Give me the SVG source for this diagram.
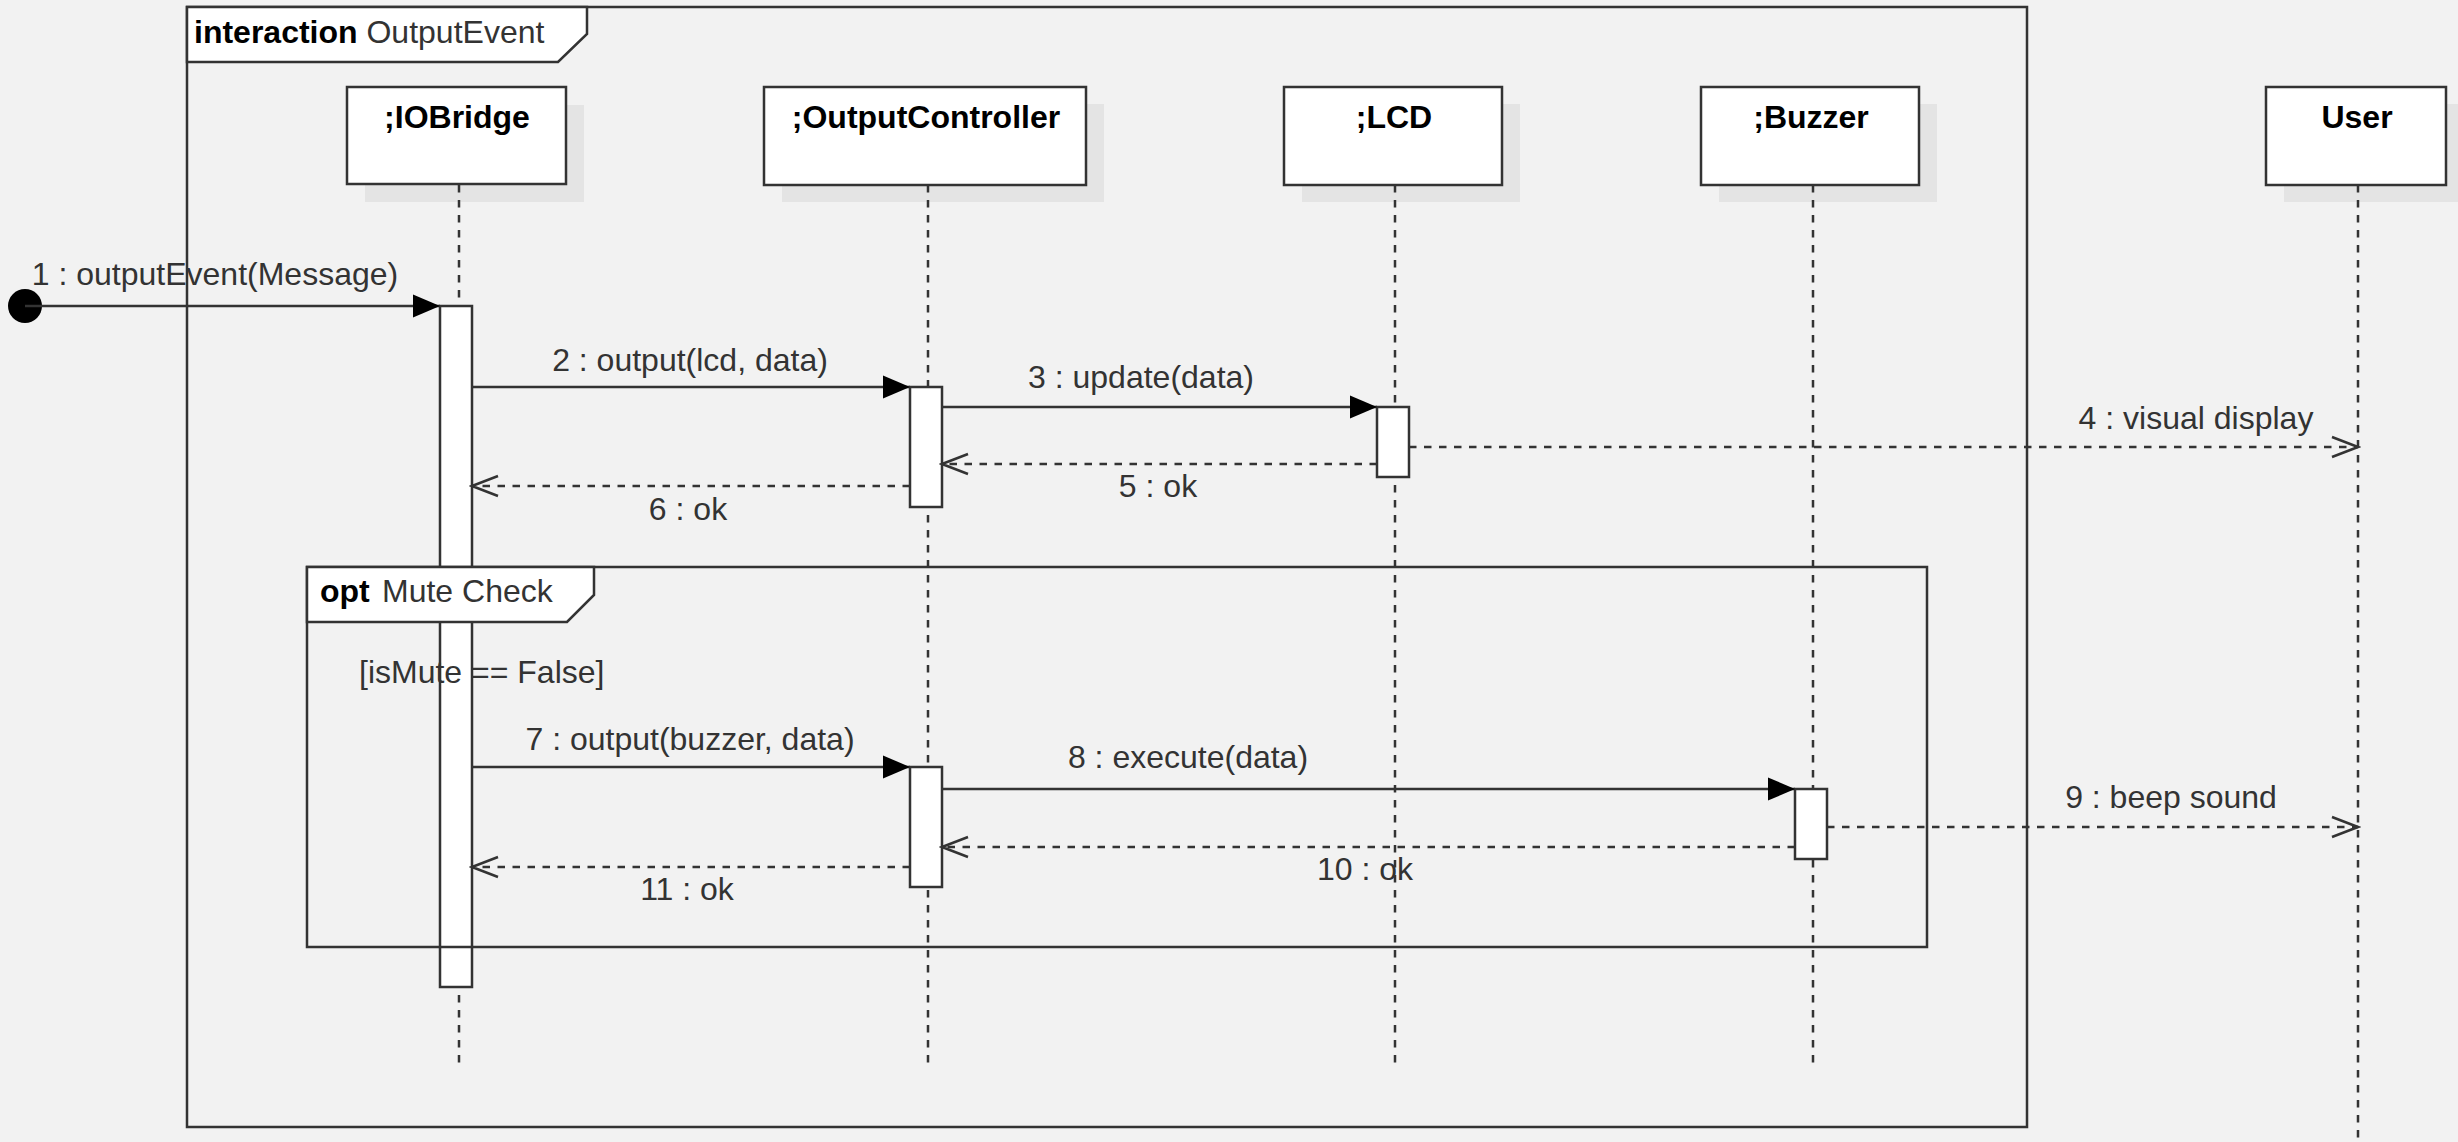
<svg xmlns="http://www.w3.org/2000/svg" width="2458" height="1142" viewBox="0 0 2458 1142">
<style>
.bg{fill:#f2f2f2}
.frame{fill:none;stroke:#333;stroke-width:2.5}
.tab{fill:#fff;stroke:#333;stroke-width:2.5}
.box{fill:#fff;stroke:#333;stroke-width:2.5}
.shadow{fill:#e4e4e4}
.life{stroke:#333;stroke-width:2.5;stroke-dasharray:7.5 7.5;fill:none}
.act{fill:#fff;stroke:#333;stroke-width:2.5}
.msg{stroke:#333;stroke-width:2.5;fill:none}
.ret{stroke:#333;stroke-width:2.5;fill:none;stroke-dasharray:7.5 7.5}
text{font-family:"Liberation Sans",Arial,sans-serif;font-size:32px}
.title{font-weight:bold;fill:#000;text-anchor:middle}
.lbl{fill:#333;text-anchor:middle}
.b{font-weight:bold;fill:#000}
.r{fill:#333}
</style>
<defs>
<marker id="fillArrow" markerUnits="userSpaceOnUse" markerWidth="28" markerHeight="24" refX="27" refY="12" orient="auto">
<path d="M0,0.5 L27,12 L0,23.5 Z" fill="#000"/>
</marker>
<marker id="openArrow" markerUnits="userSpaceOnUse" markerWidth="30" markerHeight="26" refX="27" refY="13" orient="auto">
<path d="M1,3 L27,13 L1,23" fill="none" stroke="#333" stroke-width="2.5"/>
</marker>
</defs>
<rect class="bg" x="0" y="0" width="2458" height="1142"/>

<g id="frame-interaction">
<rect class="frame" x="187" y="7" width="1840" height="1120"/>
<path class="tab" d="M187,7 L587,7 L587,34 L558,62 L187,62 Z"/>
<text x="194" y="43"><tspan class="b">interaction</tspan><tspan class="r"> OutputEvent</tspan></text>
</g>

<g id="lifeline-iobridge">
<rect class="shadow" x="365" y="105" width="219" height="97"/>
<rect class="box" x="347" y="87" width="219" height="97"/>
<text class="title" x="457" y="128">;IOBridge</text>
<line class="life" x1="459" y1="185" x2="459" y2="1066"/>
</g>
<g id="lifeline-outputcontroller">
<rect class="shadow" x="782" y="104" width="322" height="98"/>
<rect class="box" x="764" y="87" width="322" height="98"/>
<text class="title" x="926" y="128">;OutputController</text>
<line class="life" x1="928" y1="185" x2="928" y2="1066"/>
</g>
<g id="lifeline-lcd">
<rect class="shadow" x="1302" y="104" width="218" height="98"/>
<rect class="box" x="1284" y="87" width="218" height="98"/>
<text class="title" x="1394" y="128">;LCD</text>
<line class="life" x1="1395" y1="185" x2="1395" y2="1066"/>
</g>
<g id="lifeline-buzzer">
<rect class="shadow" x="1719" y="104" width="218" height="98"/>
<rect class="box" x="1701" y="87" width="218" height="98"/>
<text class="title" x="1811" y="128">;Buzzer</text>
<line class="life" x1="1813" y1="185" x2="1813" y2="1066"/>
</g>
<g id="lifeline-user">
<rect class="shadow" x="2284" y="104" width="180" height="98"/>
<rect class="box" x="2266" y="87" width="180" height="98"/>
<text class="title" x="2357" y="128">User</text>
<line class="life" x1="2358" y1="185" x2="2358" y2="1142"/>
</g>

<g id="activations">
<rect id="act-iobridge" class="act" x="440" y="306" width="32" height="681"/>
<rect id="act-oc-1" class="act" x="910" y="387" width="32" height="120"/>
<rect id="act-lcd" class="act" x="1377" y="407" width="32" height="70"/>
<rect id="act-oc-2" class="act" x="910" y="767" width="32" height="120"/>
<rect id="act-buzzer" class="act" x="1795" y="789" width="32" height="70"/>
</g>

<g id="frame-opt">
<rect class="frame" x="307" y="567" width="1620" height="380"/>
<path class="tab" d="M307,567 L594,567 L594,595 L567,622 L307,622 Z"/>
<text x="320" y="602"><tspan class="b">opt</tspan><tspan class="r" x="382">Mute Check</tspan></text>
<text class="r" x="359" y="683">[isMute == False]</text>
</g>

<g id="connectors">
<circle cx="25" cy="306" r="17" fill="#000"/>
<line class="msg" x1="25" y1="306" x2="440" y2="306" marker-end="url(#fillArrow)"/>
<line class="msg" x1="472" y1="387" x2="910" y2="387" marker-end="url(#fillArrow)"/>
<line class="msg" x1="942" y1="407" x2="1377" y2="407" marker-end="url(#fillArrow)"/>
<line class="ret" x1="1409" y1="447" x2="2358" y2="447" marker-end="url(#openArrow)"/>
<line class="ret" x1="1377" y1="464" x2="942" y2="464" marker-end="url(#openArrow)"/>
<line class="ret" x1="910" y1="486" x2="472" y2="486" marker-end="url(#openArrow)"/>
<line class="msg" x1="472" y1="767" x2="910" y2="767" marker-end="url(#fillArrow)"/>
<line class="msg" x1="942" y1="789" x2="1795" y2="789" marker-end="url(#fillArrow)"/>
<line class="ret" x1="1827" y1="827" x2="2358" y2="827" marker-end="url(#openArrow)"/>
<line class="ret" x1="1795" y1="847" x2="942" y2="847" marker-end="url(#openArrow)"/>
<line class="ret" x1="910" y1="867" x2="472" y2="867" marker-end="url(#openArrow)"/>
</g>

<g id="labels">
<text class="lbl" x="215" y="285">1 : outputEvent(Message)</text>
<text class="lbl" x="690" y="371">2 : output(lcd, data)</text>
<text class="lbl" x="1141" y="388">3 : update(data)</text>
<text class="lbl" x="2196" y="429">4 : visual display</text>
<text class="lbl" x="1158" y="497">5 : ok</text>
<text class="lbl" x="688" y="520">6 : ok</text>
<text class="lbl" x="690" y="750">7 : output(buzzer, data)</text>
<text class="lbl" x="1188" y="768">8 : execute(data)</text>
<text class="lbl" x="2171" y="808">9 : beep sound</text>
<text class="lbl" x="1365" y="880">10 : ok</text>
<text class="lbl" x="687" y="900">11 : ok</text>
</g>
</svg>
